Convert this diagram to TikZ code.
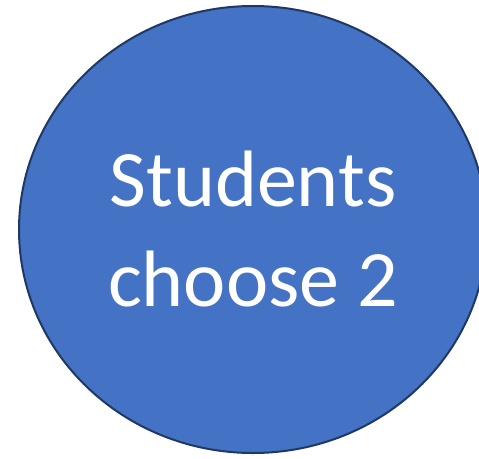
\documentclass[tikz,border=0pt]{standalone}
\usepackage{fontspec}
\setmainfont{Carlito}
\usetikzlibrary{shapes.geometric}

\definecolor{choiceblue}{HTML}{4472C4}
\definecolor{choiceline}{HTML}{1F3864}

\begin{document}
\begin{tikzpicture}[x=1pt, y=1pt,
    choice/.style={ellipse, draw=choiceline, line width=2pt, fill=choiceblue,
      inner sep=0pt, minimum width=468pt, minimum height=447pt,
      align=center, text=white,
      font=\fontsize{80}{96}\selectfont}]
      \clip (0,0) rectangle (479,-458);
      \node[choice] (students) at (253,-229.5) {Students\\[4pt]choose 2};
    \end{tikzpicture}
\end{document}
